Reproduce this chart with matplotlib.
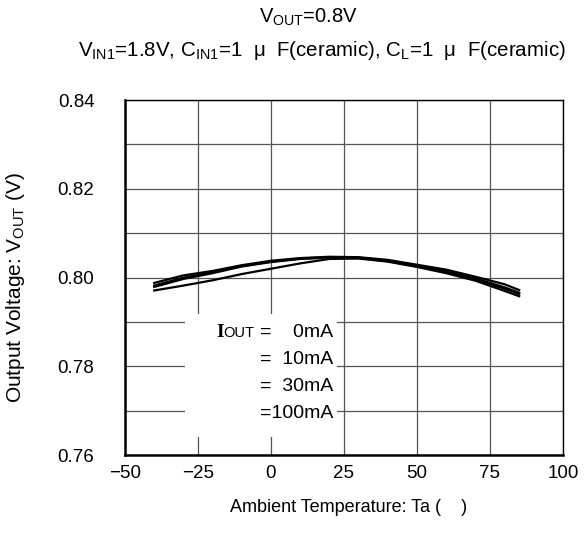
import matplotlib
matplotlib.use("Agg")
from matplotlib import pyplot as plt

plt.rcParams['font.family'] = ['Liberation Sans', 'DejaVu Sans']

temps = [-40, -30, -20, -10, 0, 10, 20, 30, 40, 50, 60, 70, 80, 85]
vout_0ma = [0.7988, 0.8005, 0.8015, 0.8028, 0.8038, 0.8044, 0.8047, 0.8046, 0.8040, 0.8029, 0.8018, 0.8002, 0.7985, 0.7972]
vout_10ma = [0.7982, 0.8000, 0.8012, 0.8026, 0.8036, 0.8043, 0.8046, 0.8045, 0.8038, 0.8026, 0.8014, 0.7998, 0.7978, 0.7966]
vout_30ma = [0.7979, 0.7997, 0.8010, 0.8025, 0.8035, 0.8042, 0.8045, 0.8044, 0.8037, 0.8025, 0.8012, 0.7996, 0.7975, 0.7963]
vout_100ma = [0.7971, 0.7982, 0.7994, 0.8008, 0.8020, 0.8032, 0.8042, 0.8043, 0.8036, 0.8024, 0.8010, 0.7993, 0.7970, 0.7958]

x_ticks = [-50, -25, 0, 25, 50, 75, 100]
x_labels = ['\u221250', '\u221225', '0', '25', '50', '75', '100']
y_ticks = [0.76, 0.78, 0.80, 0.82, 0.84]
y_labels = ['0.76', '0.78', '0.80', '0.82', '0.84']
legend_rows = ['=    0mA', '=  10mA', '=  30mA', '=100mA']

fig = plt.figure(figsize=(5.86, 5.38), dpi=100)
ax = fig.add_axes([0.2133, 0.154, 0.7474, 0.660])

for series in (vout_0ma, vout_10ma, vout_30ma, vout_100ma):
    ax.plot(temps, series, color='black', lw=1.6, zorder=3)

ax.set_xlim(-50, 100)
ax.set_ylim(0.76, 0.84)
ax.set_xticks(x_ticks)
ax.set_xticklabels(x_labels)
ax.set_yticks(y_ticks)
ax.set_yticklabels(y_labels)
ax.set_yticks([0.77, 0.79, 0.81, 0.83], minor=True)
ax.tick_params(axis='both', which='both', length=0, labelsize=13.5)
ax.tick_params(axis='x', pad=7)
ax.tick_params(axis='y', pad=22)
ax.grid(True, which='both', color='#555555', lw=0.9)
for side in ax.spines:
    ax.spines[side].set_color('black')
    ax.spines[side].set_linewidth(1.0)
ax.spines['left'].set_linewidth(1.8)
ax.spines['bottom'].set_linewidth(1.8)

# legend block, white box hiding the grid
ax.add_patch(plt.Rectangle((-29.5, 0.7642), 52.0, 0.0275, facecolor='white',
                           edgecolor='none', zorder=2))
row_y = [0.7876, 0.7815, 0.7755, 0.7694]
for text, y in zip(legend_rows, row_y):
    ax.text(21.3, y, text, ha='right', va='center', fontsize=14, zorder=4)
ax.text(-18.8, row_y[0], 'I', ha='left', va='center', fontsize=14,
        family='Liberation Serif', fontweight='bold', zorder=4)
ax.text(-16.3, row_y[0], 'OUT', ha='left', va='center', fontsize=10.5, zorder=4)

fig.text(0.527, 0.968, r'V$_{\mathregular{OUT}}$=0.8V', ha='center', va='center', fontsize=14.5)
fig.text(0.55, 0.906,
         r'V$_{\mathregular{IN1}}$=1.8V, C$_{\mathregular{IN1}}$=1  $\mathregular{\mu}$  F(ceramic), '
         r'C$_{\mathregular{L}}$=1  $\mathregular{\mu}$  F(ceramic)',
         ha='center', va='center', fontsize=14.8)
fig.text(0.594, 0.056, 'Ambient Temperature: Ta (    )', ha='center', va='center', fontsize=13)
fig.text(0.027, 0.465, r'Output Voltage: V$_{\mathregular{OUT}}$ (V)', ha='center', va='center',
         rotation=90, fontsize=15)

fig.savefig('out.png', dpi=100)
plt.close(fig)
